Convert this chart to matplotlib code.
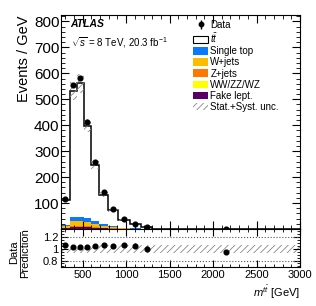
import numpy as np
import matplotlib
matplotlib.use('Agg')
from matplotlib import pyplot as plt
from matplotlib.patches import Patch
from matplotlib.ticker import MultipleLocator, AutoMinorLocator, FormatStrFormatter

plt.rcParams['font.family'] = ['Liberation Sans', 'DejaVu Sans']
plt.rcParams['mathtext.fontset'] = 'custom'
plt.rcParams['mathtext.rm'] = 'Liberation Sans'
plt.rcParams['mathtext.it'] = 'Liberation Sans:italic'
plt.rcParams['mathtext.bf'] = 'Liberation Sans:bold'
plt.rcParams['hatch.linewidth'] = 0.6

# bins in m_tt [GeV]
edges = [250, 350, 430, 510, 590, 690, 795, 910, 1040, 1170, 1300, 3000]

# stacked prediction, events / GeV
fake = [3, 8, 8, 6.5, 4.8, 3, 1.5, 0.7, 0.35, 0.17, 0.01]
diboson = [0.5, 1, 1, 1, 0.7, 0.4, 0.2, 0.1, 0.05, 0.03, 0.002]
zjets = [1.5, 4, 4, 3.5, 2.5, 1.5, 0.8, 0.4, 0.2, 0.1, 0.005]
wjets = [5, 16, 17, 15, 11, 7, 3.5, 1.8, 0.9, 0.4, 0.02]
single_top = [5, 18, 17, 15, 12, 7, 4, 2, 1, 0.5, 0.02]
ttbar = [95, 486, 515, 357, 216, 114, 62, 30, 15.5, 8.3, 0.45]

data = [116.6, 554, 584, 412, 259, 142, 76, 37.3, 19, 9.5, 0.48]
data_err = [3, 6, 6, 5, 4, 3, 2, 1.2, 0.7, 0.4, 0.01]
unc = 0.065  # relative stat+syst

edges = np.array(edges)
centers = 0.5 * (edges[1:] + edges[:-1])

stack = [(fake, '#5a0064', 'Fake lept.'),
         (diboson, '#ffff00', 'WW/ZZ/WZ'),
         (zjets, '#ff7700', 'Z+jets'),
         (wjets, '#ffbb00', 'W+jets'),
         (single_top, '#0a78ff', 'Single top')]

fig = plt.figure(figsize=(3.16, 3.06), dpi=100)
ax = fig.add_axes([61/316, 1-229/306, 239/316, 214/306])
rax = fig.add_axes([61/316, 1-267/306, 239/316, 38/306], sharex=ax)

bottom = np.zeros(len(centers))
for vals, col, lab in stack:
    top = bottom + np.array(vals)
    ax.stairs(top, edges, baseline=bottom, fill=True, color=col, lw=0)
    bottom = top
total = bottom + np.array(ttbar)
ax.stairs(total, edges, baseline=bottom, fill=True, color='white', lw=0)
ax.stairs(total, edges, color='black', lw=1.1)
ax.stairs(total*(1+unc), edges, baseline=total*(1-unc), fill=True,
          facecolor='none', edgecolor='#888888', hatch='/////', lw=0)
ax.errorbar(centers, data, yerr=data_err, fmt='o', color='black', ms=3.4,
            elinewidth=1, capsize=0)

ax.set_xlim(250, 3000)
ax.set_ylim(0.001, 825)
ax.set_ylabel('Events / GeV', fontsize=10.5, loc='top', labelpad=2)
ax.yaxis.set_major_locator(MultipleLocator(100))
ax.yaxis.set_minor_locator(AutoMinorLocator(5))
ax.xaxis.set_major_locator(MultipleLocator(500))
ax.xaxis.set_minor_locator(MultipleLocator(100))
ax.tick_params(which='both', direction='in', top=True, right=True, labelsize=11, pad=1)
ax.tick_params(which='major', length=6)
ax.tick_params(which='minor', length=3)
ax.tick_params(axis='x', labelbottom=False)

ax.text(0.04, 0.945, 'ATLAS', transform=ax.transAxes, fontsize=7.5,
        fontweight='bold', fontstyle='italic')
ax.text(0.04, 0.855, r'$\sqrt{s}$ = 8 TeV, 20.3 fb$^{-1}$', transform=ax.transAxes, fontsize=7)

handles = [ax.errorbar([], [], yerr=[], fmt='o', color='black', ms=3.2, elinewidth=1),
           Patch(facecolor='white', edgecolor='black', lw=0.8)]
labels = ['Data', r'$t\bar{t}$']
for vals, col, lab in reversed(stack):
    handles.append(Patch(facecolor=col, lw=0))
    labels.append(lab)
handles.append(Patch(facecolor='white', edgecolor='#888888', hatch='/////', lw=0))
labels.append('Stat.+Syst. unc.')
ax.legend(handles, labels, loc='upper left', bbox_to_anchor=(0.535, 0.995), frameon=False,
          fontsize=7, handlelength=1.6, handleheight=0.8, handletextpad=0.2,
          labelspacing=0.12, borderaxespad=0)

# ratio panel
ratio = np.array(data) / total
ratio_err = np.array(data_err) / total
rax.stairs(np.full(len(centers), 1+unc), edges, baseline=np.full(len(centers), 1-unc),
           fill=True, facecolor='none', edgecolor='#888888', hatch='/////', lw=0)
rax.axhline(1.2, color='#555555', ls=':', lw=0.8)
rax.axhline(0.8, color='#555555', ls=':', lw=0.8)
rax.errorbar(centers, ratio, yerr=ratio_err, fmt='o', color='black', ms=3.4,
             elinewidth=1, capsize=0)
rax.set_ylim(0.69, 1.34)
rax.set_yticks([0.8, 1.0, 1.2])
rax.yaxis.set_major_formatter(FormatStrFormatter('%g'))
rax.yaxis.set_minor_locator(MultipleLocator(0.05))
rax.tick_params(which='both', direction='in', top=True, right=True, labelsize=8, pad=2)
rax.tick_params(which='major', length=5)
rax.tick_params(which='minor', length=2.5)
rax.set_xlabel(r'$m^{t\bar{t}}$ [GeV]', fontsize=8, loc='right', labelpad=3)

fig.text(14/316, 1-252/306, 'Data', rotation=90, fontsize=8, ha='center', va='center')
fig.text(25/316, 1-253/306, 'Prediction', rotation=90, fontsize=8, ha='center', va='center')
fig.add_artist(plt.Line2D([19.5/316, 19.5/316], [1-232/306, 1-276/306], color='black', lw=0.6))

fig.savefig('out.png', dpi=100)
